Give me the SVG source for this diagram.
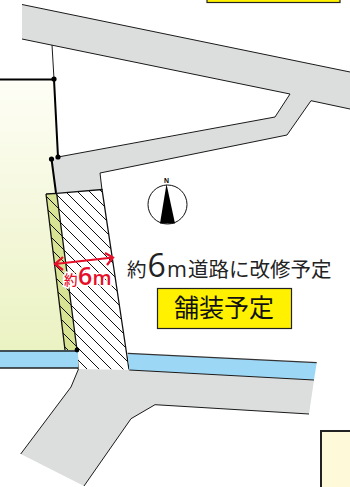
<svg xmlns="http://www.w3.org/2000/svg" width="350" height="487" viewBox="0 0 350 487">
<style>
.ln{fill:none;stroke:#1a1a1a;stroke-width:1}
.th{fill:none;stroke:#000;stroke-width:2}
.cjk{font-family:"Noto Sans CJK JP","Noto Sans",sans-serif}
.lat{font-family:"Open Sans",sans-serif}
</style>
<defs>
<linearGradient id="lot" x1="0" y1="0" x2="0" y2="1"><stop offset="0" stop-color="#fefef6"/><stop offset="1" stop-color="#ebf2c2"/></linearGradient>
<clipPath id="hc"><polygon points="46,194 102,189.5 129,369.5 78,369 77,350 65,350"/></clipPath>
</defs>
<rect width="350" height="487" fill="#fff"/>
<g id="lot-left">
<polygon points="0,79.5 54,79 58,157 51.5,159 56,193 77,350 0,350" fill="url(#lot)"/>
<polygon points="46,194 56.7,193.3 77,350 65,350" fill="#d8e394"/>
</g>
<g id="road-top">
<polygon points="22,4.5 350,72 350,109 311,100.7 287,135 100,173 102,190 56.5,193 51.5,159 58,157 175,136 275,117 290,94 22,39" fill="#dcdddd"/>
<path class="ln" d="M22,4.5 350,72M22,39 290,94 275,117 58,157M350,109 311,100.7 287,135 100,173 102,190"/>
</g>
<g id="hatched-area">
<polygon points="56.7,193.3 102,189.5 129,369.5 78,369 77,350" fill="#fff"/>
<path clip-path="url(#hc)" fill="none" stroke="#111" stroke-width="1" d="M0,66l350,350M0,78l350,350M0,90l350,350M0,102l350,350M0,114l350,350M0,126l350,350M0,138l350,350M0,150l350,350M0,162l350,350M0,174l350,350M0,186l350,350M0,198l350,350M0,210l350,350M0,222l350,350M0,234l350,350M0,246l350,350M0,258l350,350M0,270l350,350M0,282l350,350M0,294l350,350M0,306l350,350M0,318l350,350"/>
<path fill="none" stroke="#111" stroke-width="1.300" d="M46,194 56.7,193.3 102,189.5 129,369.5M65,350 46,194M56.7,193.3 77,350 78,369"/>
</g>
<g id="water">
<rect x="0" y="350" width="78" height="18" fill="#9dd7f6"/>
<polygon points="127.7,353.3 316.7,362.7 314,380 129.3,370" fill="#9dd7f6"/>
<path d="M0,351H78M0,368H78" fill="none" stroke="#222" stroke-width="1.500"/>
<path d="M127.7,353.3 316.7,362.7" fill="none" stroke="#333" stroke-width="1.200"/>
</g>
<g id="road-bottom">
<polygon points="78.5,369 129.3,370 314,380 309,414 155,404.7 131,418.7 84,486 20.7,454 71,387" fill="#dcdddd"/>
<path class="ln" d="M129.3,370 314,380M309,414 155,404.7 131,418.7 84,486M20.7,454 71,387 78.5,369"/>
</g>
<g id="boundary">
<path class="ln" d="M52,45 54,79"/>
<path class="th" d="M0,79.500H54L58,157M51.500,159 56,193"/>
<circle cx="54" cy="79" r="2.600"/><circle cx="58" cy="157" r="2.600"/><circle cx="51.500" cy="159" r="2.600"/><circle cx="77" cy="350" r="2.400"/>
</g>
<g id="box-top"><rect x="207" y="-5" width="133" height="7.500" fill="#fff100" stroke="#222" stroke-width="1.200"/></g>
<g id="box-bottom"><rect x="321" y="431" width="34" height="60" fill="#fef9d8" stroke="#222" stroke-width="2"/></g>
<g id="compass">
<circle cx="167.500" cy="204.500" r="19.500" fill="#fff" stroke="#111" stroke-width="1"/>
<polygon points="166.500,184 175,223.500 160,223.500" fill="#000"/>
<text x="166.500" y="182.500" font-family="Liberation Sans,sans-serif" font-size="8" font-weight="bold" text-anchor="middle" textLength="5" lengthAdjust="spacingAndGlyphs">N</text>
</g>
<g id="width-dim">
<text x="64" y="285" fill="#e60f2a" stroke="#fff" stroke-width="3" paint-order="stroke" font-weight="600"><tspan class="cjk" font-size="13.500" font-weight="500">約</tspan><tspan class="lat" x="78" y="284.500" font-size="25">6</tspan><tspan class="lat" x="92.500" y="284.500" font-size="20">m</tspan></text>
<path d="M55,264 113,257.500M63,257 55,264 63,270M105,253 113,257.500 107,265" fill="none" stroke="#e60f2a" stroke-width="2.200"/>
</g>
<g id="label-road">
<text y="276.500" fill="#222"><tspan class="cjk" x="127" font-size="19.500">約</tspan><tspan class="lat" x="147.500" font-size="32">6</tspan><tspan class="lat" x="167" font-size="21.500">m</tspan><tspan class="cjk" x="188" font-size="20.500">道路に改修予定</tspan></text>
</g>
<g id="label-paving">
<rect x="157.500" y="288.500" width="134" height="40" fill="#fff100" stroke="#222" stroke-width="1.200"/>
<text class="cjk" x="224" y="317" font-size="25" text-anchor="middle" fill="#111">舗装予定</text>
</g>
</svg>
